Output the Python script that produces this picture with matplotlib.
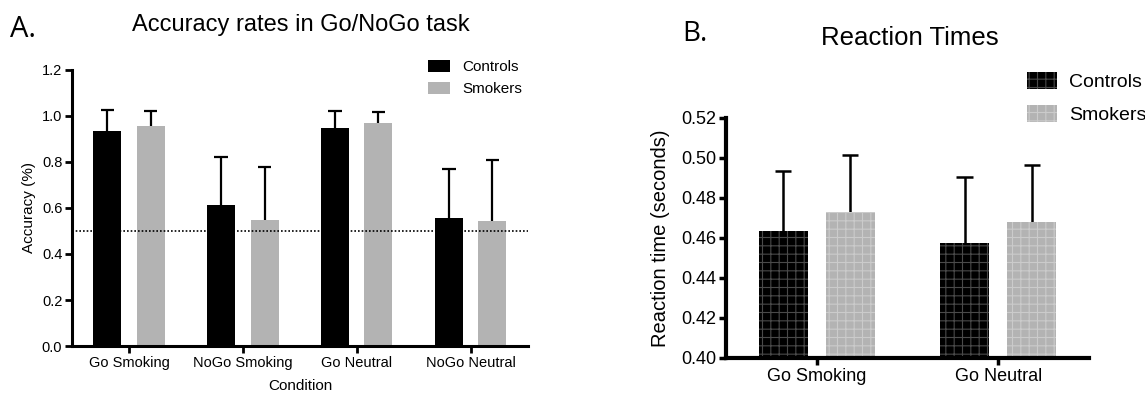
import matplotlib
matplotlib.use("Agg")
import matplotlib.pyplot as plt
import numpy as np
from matplotlib.patches import Patch

plt.rcParams['font.family'] = ['Liberation Sans', 'DejaVu Sans']
plt.rcParams['hatch.linewidth'] = 0.8

# panel A: accuracy
conditions_a = ['Go Smoking', 'NoGo Smoking', 'Go Neutral', 'NoGo Neutral']
acc_controls = [0.934, 0.614, 0.947, 0.556]
acc_controls_err = [0.093, 0.207, 0.076, 0.215]
acc_smokers = [0.958, 0.549, 0.968, 0.545]
acc_smokers_err = [0.062, 0.229, 0.049, 0.262]
acc_yticks = [0.0, 0.2, 0.4, 0.6, 0.8, 1.0, 1.2]
chance = 0.5

# panel B: reaction times
conditions_b = ['Go Smoking', 'Go Neutral']
rt_controls = [0.4637, 0.4575]
rt_controls_err = [0.0298, 0.0330]
rt_smokers = [0.4727, 0.4680]
rt_smokers_err = [0.0288, 0.0285]
rt_yticks = [0.40, 0.42, 0.44, 0.46, 0.48, 0.50, 0.52]

black = '#000000'
grey = '#b3b3b3'


def upper_err(ax, xs, ys, errs, cap, lw):
    # only the upper half of the error bar, as in the original figure
    xs = np.asarray(xs)
    tops = np.asarray(ys) + np.asarray(errs)
    ax.vlines(xs, ys, tops, color='black', linewidth=lw, zorder=1)
    ax.hlines(tops, xs - cap, xs + cap, color='black', linewidth=lw, zorder=1)


fig = plt.figure(figsize=(11.45, 3.95), dpi=100)

# ---------- A ----------
ax = fig.add_axes([0.0629, 0.124, 0.398, 0.699])
x = np.arange(len(conditions_a))
w = 0.246
off = 0.19
ax.bar(x - off, acc_controls, w, color=black, zorder=2)
ax.bar(x + off, acc_smokers, w, color=grey, zorder=2)
upper_err(ax, x - off, acc_controls, acc_controls_err, 0.06, 1.6)
upper_err(ax, x + off, acc_smokers, acc_smokers_err, 0.06, 1.6)
ax.axhline(chance, color='black', linestyle=(0, (1, 1.2)), linewidth=1.2, zorder=3)
ax.set_xlim(-0.5, 3.5)
ax.set_ylim(0, 1.2)
ax.set_yticks(acc_yticks)
ax.set_yticklabels(['%.1f' % v for v in acc_yticks])
ax.set_xticks(x)
ax.set_xticklabels(conditions_a)
ax.tick_params(axis='both', labelsize=10.5, width=2, length=5, pad=2)
for s in ['top', 'right']:
    ax.spines[s].set_visible(False)
for s in ['left', 'bottom']:
    ax.spines[s].set_linewidth(2.2)
ax.set_ylabel('Accuracy (%)', fontsize=11, labelpad=4)
ax.set_xlabel('Condition', fontsize=11, labelpad=7)
handles_a = [Patch(facecolor=black, label='Controls'), Patch(facecolor=grey, label='Smokers')]
fig.legend(handles=handles_a, loc='upper left', bbox_to_anchor=(0.374, 0.848), frameon=False,
           fontsize=11, handlelength=1.4, handleheight=0.85, handletextpad=0.85,
           labelspacing=0.5, borderaxespad=0, borderpad=0)
fig.text(0.263, 0.937, 'Accuracy rates in Go/NoGo task', ha='center', va='center', fontsize=17)
fig.text(0.009, 0.925, 'A.', ha='left', va='center', fontsize=21, family='Open Sans')

# ---------- B ----------
bx = fig.add_axes([0.634, 0.0937, 0.317, 0.608])
xb = np.arange(len(conditions_b))
wb = 0.27
offb = 0.185
bx.bar(xb - offb, rt_controls, wb, color=black, edgecolor='#4a4a4a', hatch='++', linewidth=0, zorder=2)
bx.bar(xb + offb, rt_smokers, wb, color=grey, edgecolor='#cbcbcb', hatch='++', linewidth=0, zorder=2)
upper_err(bx, xb - offb, rt_controls, rt_controls_err, 0.045, 1.8)
upper_err(bx, xb + offb, rt_smokers, rt_smokers_err, 0.045, 1.8)
bx.set_xlim(-0.5, 1.5)
bx.set_ylim(0.40, 0.52)
bx.set_yticks(rt_yticks)
bx.set_yticklabels(['%.2f' % v for v in rt_yticks])
bx.set_xticks(xb)
bx.set_xticklabels(conditions_b)
bx.tick_params(axis='both', labelsize=13, width=2.5, length=5, pad=2)
for s in ['top', 'right']:
    bx.spines[s].set_visible(False)
for s in ['left', 'bottom']:
    bx.spines[s].set_linewidth(3)
bx.set_ylabel('Reaction time (seconds)', fontsize=14.5, labelpad=8)
handles_b = [Patch(facecolor=black, edgecolor='#4a4a4a', hatch='++', linewidth=0, label='Controls'),
             Patch(facecolor=grey, edgecolor='#cbcbcb', hatch='++', linewidth=0, label='Smokers')]
fig.legend(handles=handles_b, loc='upper left', bbox_to_anchor=(0.897, 0.818), frameon=False,
           fontsize=14, handlelength=1.55, handleheight=1.0, handletextpad=0.6, labelspacing=0.7,
           borderaxespad=0, borderpad=0)
fig.text(0.795, 0.905, 'Reaction Times', ha='center', va='center', fontsize=18.5)
fig.text(0.596, 0.915, 'B.', ha='left', va='center', fontsize=20, family='Open Sans')

fig.savefig('out.png', dpi=100)
